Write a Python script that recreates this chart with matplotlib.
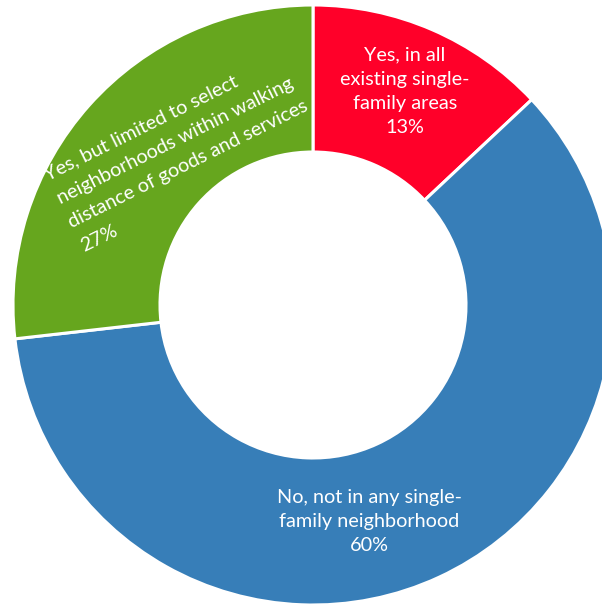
import matplotlib
matplotlib.use("Agg")
import matplotlib.pyplot as plt

categories = [
    "Yes, in all\nexisting single-\nfamily areas",
    "No, not in any single-\nfamily neighborhood",
    "Yes, but limited to select\nneighborhoods within walking\ndistance of goods and services",
]
values = [13.0, 60.2, 26.8]
pct_labels = ["13%", "60%", "27%"]
colors = ["#FF0029", "#377EB8", "#66A61E"]

plt.rcParams['font.family'] = ['Lato', 'DejaVu Sans']

fig = plt.figure(figsize=(6.02, 6.05), dpi=100)
ax = fig.add_axes([0, 0, 1, 1])

wedges, _ = ax.pie(values, colors=colors, startangle=90, counterclock=False,
                   radius=1.0,
                   wedgeprops=dict(width=0.49, edgecolor='white', linewidth=2.2))
ax.set_aspect('auto')
ax.set_xlim(-313 / 300, (602 - 313) / 300)
ax.set_ylim(-300 / 300, 305 / 300)
ax.axis('off')

label_pos = [(0.307, 0.713), (0.187, -0.723), (-0.435, 0.51)]
rotations = [0, 0, 26.5]
aligns = ['center', 'center', 'left']
spacings = [1.5, 1.5, 1.7]
for cat, pct, pos, rot, al, ls in zip(categories, pct_labels, label_pos, rotations, aligns, spacings):
    ax.text(pos[0], pos[1], cat + "\n" + pct, ha='center', va='center',
            rotation=rot, rotation_mode='anchor', multialignment=al,
            color='white', fontsize=14.3, linespacing=ls)

fig.savefig("out.png", dpi=100)
